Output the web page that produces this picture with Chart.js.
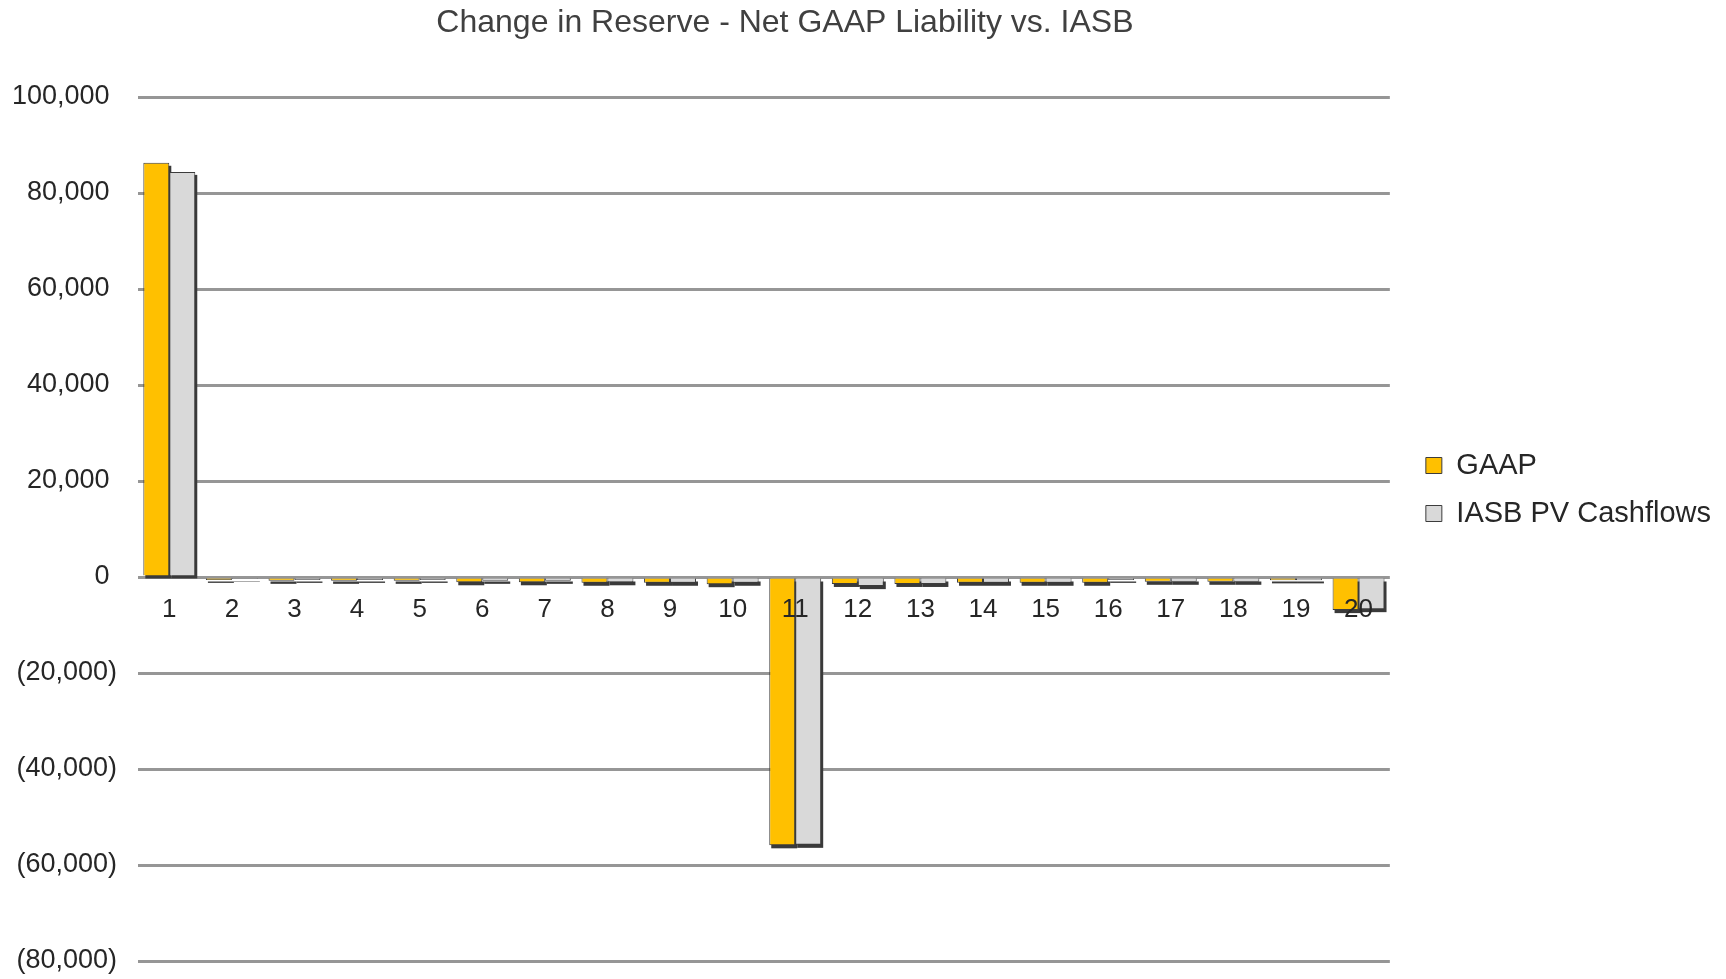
<!DOCTYPE html>
<html>
<head>
<meta charset="utf-8">
<script src="https://cdn.jsdelivr.net/npm/chart.js@4/dist/chart.umd.min.js"></script>
<style>
  html, body { margin: 0; padding: 0; background: #ffffff; }
  #wrap { width: 1726px; height: 979px; }
</style>
</head>
<body>
<div id="wrap"><canvas id="c" width="1726" height="979"></canvas></div>
<script>
const categories = ['1','2','3','4','5','6','7','8','9','10','11','12','13','14','15','16','17','18','19','20'];
const gaapValues = [86300, -600, -800, -800, -800, -1100, -1100, -1200, -1200, -1500, -55900, -1450, -1450, -1200, -1200, -1200, -1000, -1000, -700, -6900];
const iasbValues = [84400, -400, -600, -600, -600, -800, -800, -1100, -1200, -1200, -55800, -1900, -1450, -1200, -1200, -600, -1000, -1000, -700, -6700];
const seriesNames = ['GAAP', 'IASB PV Cashflows'];
const titleText = 'Change in Reserve - Net GAAP Liability vs. IASB';
const yMin = -80000, yMax = 100000, yStep = 20000;

function fmtTick(v) {
  const s = Math.abs(v).toLocaleString('en-US');
  return v < 0 ? '(' + s + ')' : s + ' ';
}

const FONT = "'Liberation Sans', Arial, sans-serif";

const titleShift = {
  id: 'titleShift',
  afterLayout(chart) {
    const t = chart.titleBlock;
    if (t) { t.left += 21; t.right += 21; }
  }
};

// Excel-like drop shadow behind each bar, from the bar elements laid out by Chart.js
const barShadow = {
  id: 'barShadow',
  beforeDatasetsDraw(chart) {
    const c = chart.ctx;
    c.save();
    c.fillStyle = '#3a3a3a';
    chart.data.datasets.forEach((ds, i) => {
      const meta = chart.getDatasetMeta(i);
      if (meta.hidden) return;
      meta.data.forEach(el => {
        const p = el.getProps(['x', 'y', 'base', 'width'], true);
        const top = Math.min(p.y, p.base);
        const h = Math.abs(p.base - p.y);
        c.fillRect(p.x - p.width / 2 + 2, top + 3, p.width, h);
      });
    });
    c.restore();
  }
};

new Chart(document.getElementById('c'), {
  type: 'bar',
  data: {
    labels: categories,
    datasets: [
      { label: seriesNames[0], data: gaapValues, backgroundColor: '#FFC000', borderColor: '#3c3c3c', borderWidth: 1, borderSkipped: 'start' },
      { label: seriesNames[1], data: iasbValues, backgroundColor: '#D9D9D9', borderColor: '#3c3c3c', borderWidth: 1, borderSkipped: 'start' }
    ]
  },
  plugins: [titleShift, barShadow],
  options: {
    responsive: false,
    animation: false,
    devicePixelRatio: 1,
    layout: { padding: { top: 0, left: 0, right: 5, bottom: 0 } },
    datasets: { bar: { categoryPercentage: 0.83, barPercentage: 1.0 } },
    plugins: {
      title: {
        display: true,
        text: titleText,
        fullSize: false,
        color: '#404040',
        font: { family: FONT, size: 32, weight: 'normal' },
        padding: { top: 4, bottom: 54.6 }
      },
      legend: {
        display: true,
        position: 'right',
        align: 'center',
        maxWidth: 420,
        labels: {
          color: '#262626',
          font: { family: FONT, size: 29 },
          boxWidth: 16,
          boxHeight: 16,
          padding: 19
        }
      },
      tooltip: { enabled: false }
    },
    scales: {
      x: {
        position: { y: 0 },
        grid: { display: false, drawTicks: false },
        border: { display: false },
        ticks: { color: '#262626', font: { family: FONT, size: 26 }, padding: 17, z: 1, maxRotation: 0, autoSkip: false }
      },
      y: {
        min: yMin,
        max: yMax,
        position: 'left',
        afterFit(scale) { scale.width = 138; scale.paddingTop = 0; scale.paddingBottom = 18; },
        grid: { color: '#969696', lineWidth: 3, drawTicks: false, z: -1 },
        border: { display: false },
        ticks: {
          stepSize: yStep,
          color: '#262626',
          font: { family: FONT, size: 27 },
          padding: 21,
          callback: (v) => fmtTick(v)
        }
      },
      yPad: {
        position: 'right',
        display: true,
        afterFit(scale) { scale.width = 17; scale.paddingTop = 0; scale.paddingBottom = 0; },
        grid: { display: false, drawTicks: false },
        border: { display: false },
        ticks: { display: false }
      }
    }
  }
});
</script>
</body>
</html>
